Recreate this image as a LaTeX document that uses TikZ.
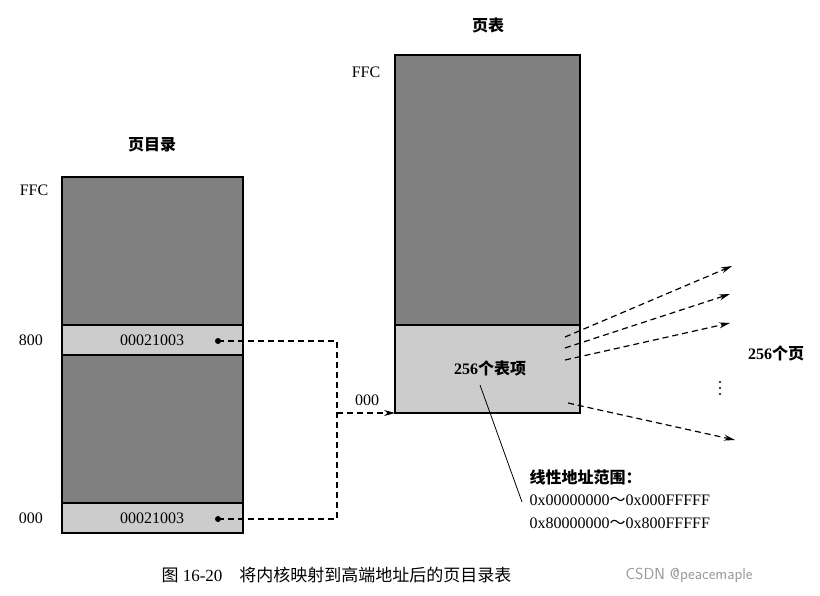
\documentclass[tikz,border=0pt]{standalone}
\usepackage{fontspec}
\setmainfont{Liberation Serif}
\newfontfamily\cjk{Noto Sans CJK SC}
\usetikzlibrary{arrows.meta}
\begin{document}
\begin{tikzpicture}[x=1pt,y=-1pt,
  dark/.style={draw=black,line width=1.2pt,fill=black!50},
  light/.style={draw=black,line width=1.2pt,fill=black!20},
  lbl/.style={font=\fontsize{16}{18}\selectfont},
  dsh/.style={line width=1.2pt,dash pattern=on 6pt off 4pt},
  arr/.style={dsh,-{Stealth[length=11pt,width=6pt]}}]
\useasboundingbox (0,0) rectangle (820,596);
% left table
\draw[dark] (62,177) rectangle (243,325);
\draw[light] (62,325) rectangle (243,355);
\draw[dark] (62,355) rectangle (243,503);
\draw[light] (62,503) rectangle (243,533);
\node[lbl] at (152,145) {\cjk\bfseries 页目录};
\node[lbl] at (34,190) {FFC};
\node[lbl] at (31,340) {800};
\node[lbl] at (31,518) {000};
\node[lbl] (e1) at (152,340) {00021003};
\node[lbl] (e0) at (152,518) {00021003};
\fill (218,341) circle (3pt) coordinate (d1);
\fill (218,519) circle (3pt) coordinate (d0);
% right table
\draw[dark] (395,55) rectangle (580,325);
\draw[light] (395,325) rectangle (580,413);
\coordinate (pt) at (395,413);
\node[lbl] at (488,25) {\cjk\bfseries 页表};
\node[lbl] at (366,72) {FFC};
\node[lbl] at (367,400) {000};
\node[lbl] (items) at (490,368) {\bfseries 256\cjk 个表项};
% connectors
\coordinate (c1) at (337,341);
\coordinate (c0) at (337,519);
\coordinate (cm) at (337,413);
\draw[dsh] (d1) -- (c1) -- (c0) -- (d0);
\draw[arr] (cm) -- (pt);
\draw[arr] (565,337) -- (732,266);
\draw[arr] (565,348) -- (730,294);
\draw[arr] (565,360) -- (730,323);
\draw[arr] (568,403) -- (735,440);
\node[lbl] at (776,353) {\bfseries 256\cjk 个页};
\foreach \yy in {382,388,394} \fill (720,\yy) circle (1.1pt);
\draw[line width=0.8pt] (480,385) -- (522,502);
\node[lbl,anchor=west] at (526,477) {\cjk\bfseries 线性地址范围：};
\node[lbl,anchor=west] at (526,500) {0x00000000{\cjk ～}0x000FFFFF};
\node[lbl,anchor=west] at (526,523) {0x80000000{\cjk ～}0x800FFFFF};
\node[font=\fontsize{17}{19}\selectfont,anchor=west] at (158,575) {{\cjk 图} 16-20\quad{\cjk 将内核映射到高端地址后的页目录表}};
\node[font=\fontsize{16}{18}\selectfont\sffamily,text=black!40,anchor=west] at (622,575) {CSDN @peacemaple};
\end{tikzpicture}
\end{document}
